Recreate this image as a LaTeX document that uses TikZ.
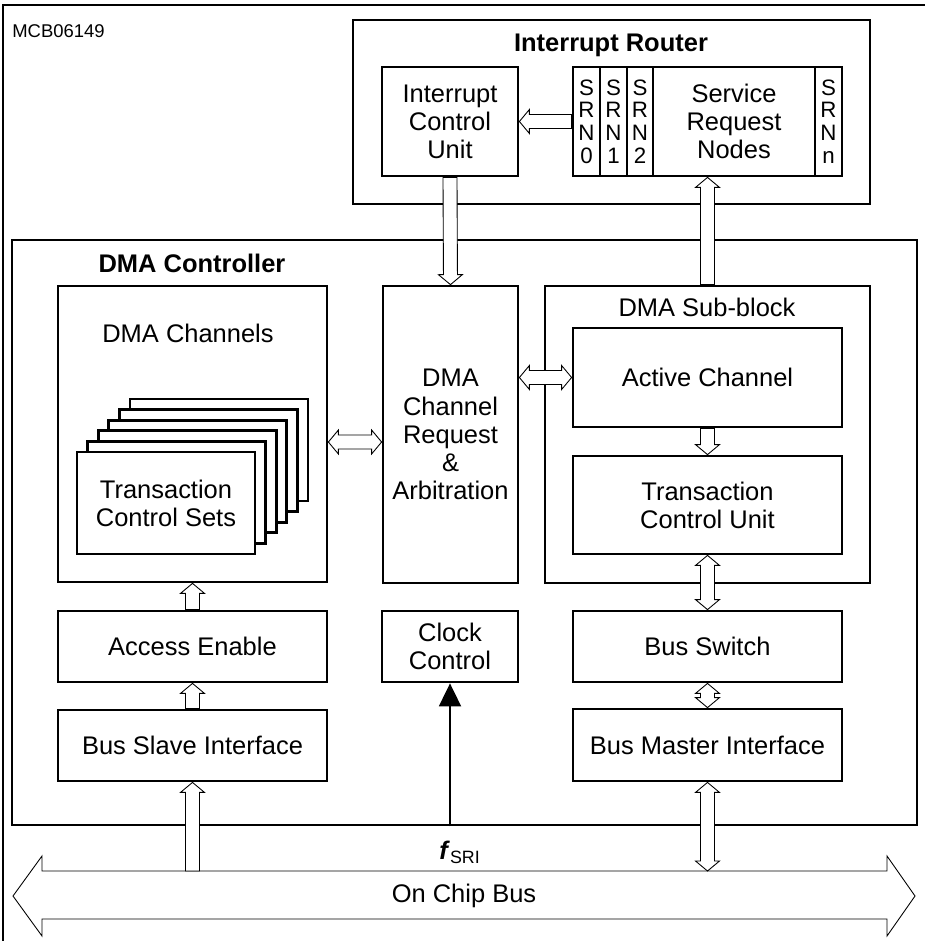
\documentclass[tikz,border=0pt]{standalone}
\usepackage{fontspec}
\setmainfont{Liberation Sans}
\usetikzlibrary{arrows.meta,calc}
\newcommand\fmain{\fontsize{14.5}{16}\selectfont}
\newcommand\fsrn{\fontsize{12.7}{12.9}\selectfont}
\tikzset{
  box/.style={draw, line width=1.6pt, inner sep=0pt, align=center, font=\fmain},
  unit/.style={box, minimum width=5.38cm, minimum height=1.42cm},
  sheet/.style={box, fill=white, minimum width=3.56cm, minimum height=2.04cm},
  srncell/.style={box, font=\fsrn, minimum width=0.54cm, minimum height=2.18cm},
  txt/.style={inner sep=0pt, align=center, font=\fmain},
  heading/.style={txt, font=\fmain\bfseries},
  hollow/.style={draw, fill=white, line width=0.5pt}
}
% hollow block arrow, head at #2
\newcommand\hollowone[2]{%
  \path ($(#2)!0.2cm!(#1)$) coordinate (hb);
  \draw[hollow] ($(#1)!0.14cm!90:(#2)$) -- ($(hb)!0.14cm!90:(#2)$)
    -- ($(hb)!0.24cm!90:(#2)$) -- (#2) -- ($(hb)!0.24cm!-90:(#2)$)
    -- ($(hb)!0.14cm!-90:(#2)$) -- ($(#1)!0.14cm!-90:(#2)$) -- cycle;}
% hollow block arrow, heads at both ends
\newcommand\hollowtwo[2]{%
  \path ($(#2)!0.2cm!(#1)$) coordinate (hb) ($(#1)!0.2cm!(#2)$) coordinate (ha);
  \draw[hollow] (#1) -- ($(ha)!0.24cm!90:(#2)$) -- ($(ha)!0.14cm!90:(#2)$)
    -- ($(hb)!0.14cm!90:(#2)$) -- ($(hb)!0.24cm!90:(#2)$) -- (#2)
    -- ($(hb)!0.24cm!-90:(#2)$) -- ($(hb)!0.14cm!-90:(#2)$)
    -- ($(ha)!0.14cm!-90:(#2)$) -- ($(ha)!0.24cm!-90:(#2)$) -- cycle;}

\begin{document}
\begin{tikzpicture}[x=0.02cm, y=-0.02cm]
  \useasboundingbox (0,0) rectangle (925,941);

  % Sheet frame
  \draw[line width=0.6pt] (3,941) -- (3,5) -- (925,5);
  \node[txt, font=\fontsize{10.5}{12}\selectfont, anchor=west] (mcb) at (12,31) {MCB06149};

  % Interrupt router
  \node[box, minimum width=10.34cm, minimum height=3.68cm] (router) at (611.5,112) {};
  \node[heading] (rtitle) at (611,45) {Interrupt Router};
  \node[box, minimum width=2.72cm, minimum height=2.18cm] (icu) at (450,121.5)
    {Interrupt\\Control\\Unit};
  \node[srncell] (srn0) at (586.5,121.5) {S\\R\\N\\0};
  \node[srncell] (srn1) at (613.5,121.5) {S\\R\\N\\1};
  \node[srncell, minimum width=0.52cm] (srn2) at (640,121.5) {S\\R\\N\\2};
  \node[srncell, font=\fmain, minimum width=3.24cm] (srnx) at (734,121.5)
    {Service\\Request\\Nodes};
  \node[srncell] (srnn) at (828.5,121.5) {S\\R\\N\\n};

  % DMA controller
  \node[box, minimum width=18.1cm, minimum height=11.7cm] (dmac) at (464.5,532.5) {};
  \node[heading] (dtitle) at (192,263) {DMA Controller};

  % DMA channels with stacked sets
  \node[box, minimum width=5.38cm, minimum height=5.92cm] (chan) at (192.5,434) {};
  \node[txt] (ctitle) at (188,333) {DMA Channels};
  \foreach \k in {5,4,3,2,1}
    \node[sheet] (tcs\k) at ({166+10.6*\k},{503-10.6*\k}) {};
  \node[sheet] (tcs) at (166,503) {Transaction\\Control Sets};

  % Request and arbitration
  \node[box, minimum width=2.7cm, minimum height=5.94cm] (arb) at (450.5,434.5)
    {DMA\\Channel\\Request\\\&\\Arbitration};

  % Sub-block
  \node[box, minimum width=6.5cm, minimum height=5.94cm] (sub) at (707.5,434.5) {};
  \node[txt] (stitle) at (707,307) {DMA Sub-block};
  \node[box, minimum width=5.38cm, minimum height=1.98cm] (act) at (707.5,377.5)
    {Active Channel};
  \node[box, minimum width=5.38cm, minimum height=1.96cm] (tcu) at (707.5,505)
    {Transaction\\Control Unit};

  % Lower row
  \node[unit] (acc) at (192.5,646.5) {Access Enable};
  \node[unit] (bsi) at (192.5,745.5) {Bus Slave Interface};
  \node[unit, minimum width=2.72cm] (clk) at (450,646.5) {Clock\\Control};
  \node[unit] (bsw) at (707.5,646.5) {Bus Switch};
  \node[unit, minimum height=1.44cm] (bmi) at (707.5,745) {Bus Master Interface};

  % On chip bus
  \draw[line width=0.5pt] (13,896) -- (42,856) -- (42,871) -- (887,871) -- (887,856)
    -- (915,896) -- (887,936) -- (887,919) -- (42,919) -- (42,936) -- cycle;
  \node[txt] (bus) at (464,896) {On Chip Bus};
  \coordinate (bustop) at (464,871);
  \coordinate (slavebus) at (bsi.south |- bustop);
  \coordinate (masterbus) at (bmi.south |- bustop);

  % Clock input
  \node[txt] (fsri) at (460,852) {\textbf{\textit{f}}\textsubscript{SRI}};
  \draw[line width=1.1pt, -{Triangle[length=0.46cm, width=0.44cm]}]
    (clk.south |- dmac.south) -- (clk.south);

  % Block arrows
  \coordinate (srnfoot) at (sub.north |- srn0.south);
  \coordinate (chanr) at ([yshift=-0.16cm]chan.east);
  \coordinate (arbl) at (arb.west |- chanr);
  \coordinate (arbr) at (arb.east |- act.west);
  \hollowone{srn0.west}{icu.east}
  \hollowone{icu.south}{arb.north}
  \hollowone{sub.north}{srnfoot}
  \hollowtwo{chanr}{arbl}
  \hollowtwo{arbr}{act.west}
  \hollowone{act.south}{tcu.north}
  \hollowtwo{tcu.south}{bsw.north}
  \hollowtwo{bsw.south}{bmi.north}
  \hollowtwo{bmi.south}{masterbus}
  \hollowone{slavebus}{bsi.south}
  \hollowone{bsi.north}{acc.south}
  \hollowone{acc.north}{chan.south}

\end{tikzpicture}
\end{document}
